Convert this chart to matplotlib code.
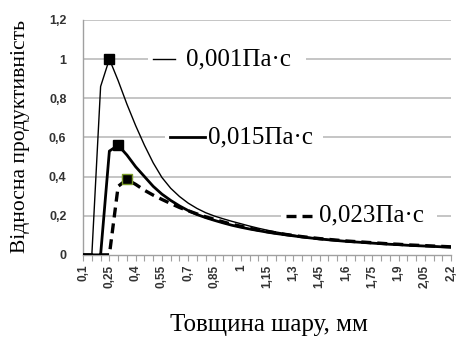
import matplotlib
matplotlib.use("Agg")
import matplotlib.pyplot as plt
from matplotlib.patches import Rectangle


# layer thickness, mm (categories of the x axis)
thickness = [0.1, 0.15, 0.2, 0.25, 0.3, 0.35, 0.4, 0.45, 0.5, 0.55,
             0.6, 0.65, 0.7, 0.75, 0.8, 0.85, 0.9, 0.95, 1.0, 1.05,
             1.1, 1.15, 1.2, 1.25, 1.3, 1.35, 1.4, 1.45, 1.5, 1.55,
             1.6, 1.65, 1.7, 1.75, 1.8, 1.85, 1.9, 1.95, 2.0, 2.05,
             2.1, 2.15, 2.2]

# relative productivity for three viscosities
visc_001 = [0, 0, 0.86, 1.0, 0.89, 0.77, 0.66, 0.56, 0.47, 0.395,
            0.34, 0.298, 0.264, 0.237, 0.215, 0.198, 0.184, 0.171, 0.159, 0.147,
            0.136, 0.126, 0.117, 0.109, 0.101, 0.094, 0.088, 0.083, 0.078, 0.074,
            0.070, 0.066, 0.063, 0.060, 0.057, 0.054, 0.052, 0.049, 0.047, 0.045,
            0.043, 0.041, 0.039]
visc_015 = [0, 0, 0, 0.53, 0.56, 0.51, 0.45, 0.40, 0.35, 0.31,
            0.278, 0.25, 0.226, 0.206, 0.19, 0.176, 0.163, 0.151, 0.141, 0.132,
            0.124, 0.116, 0.109, 0.103, 0.097, 0.091, 0.086, 0.081, 0.077, 0.073,
            0.069, 0.066, 0.063, 0.060, 0.057, 0.054, 0.052, 0.049, 0.047, 0.045,
            0.043, 0.041, 0.039]
visc_023 = [0, 0, 0, 0, 0.35, 0.385, 0.36, 0.33, 0.305, 0.283,
            0.262, 0.242, 0.225, 0.209, 0.194, 0.181, 0.168, 0.156, 0.146, 0.136,
            0.127, 0.119, 0.112, 0.105, 0.099, 0.093, 0.088, 0.083, 0.079, 0.075,
            0.071, 0.068, 0.065, 0.062, 0.059, 0.056, 0.054, 0.051, 0.049, 0.047,
            0.045, 0.043, 0.041]

series_labels = ["0,001Па·с", "0,015Па·с", "0,023Па·с"]
y_ticks = [0, 0.2, 0.4, 0.6, 0.8, 1.0, 1.2]


def fmt(v):
    s = ("%.2f" % v).rstrip("0").rstrip(".")
    return s.replace(".", ",")


idx = list(range(len(thickness)))

fig = plt.figure(figsize=(4.59, 3.38), dpi=100)
ax = fig.add_axes([0.181, 0.246, 0.802, 0.695])

for y in y_ticks[1:]:
    ax.axhline(y, color="#c0c0c0", lw=1.3, zorder=1)

ax.plot(idx, visc_001, color="black", lw=1.0, zorder=4,
        marker="s", markevery=[visc_001.index(max(visc_001))],
        ms=7, mfc="black", mec="black")
ax.plot(idx, visc_015, color="black", lw=2.0, zorder=4,
        marker="s", markevery=[visc_015.index(max(visc_015))],
        ms=7, mfc="black", mec="black")
ax.plot(idx, visc_023, color="black", lw=2.4, zorder=5, dashes=(3, 1.8),
        marker="s", markevery=[visc_023.index(max(visc_023))],
        ms=7, mfc="black", mec="#7a9a2a", mew=1.0)

# labels with legend-like keys
serif = "Liberation Serif"
labels_pos = [(7.4, 25.4, 8.0, 10.5, 11.7, 1.0, 1.0, None),
              (9.4, 27.4, 9.9, 13.9, 14.2, 0.6, 2.0, None),
              (22.6, 40.4, 23.1, 26.1, 26.9, 0.2, 2.4, (3, 1.8))]
for (bx0, bx1, kx0, kx1, tx, ty, lw, ds), lab in zip(labels_pos, series_labels):
    ax.add_patch(Rectangle((bx0, ty - 0.06), bx1 - bx0, 0.12,
                           facecolor="white", edgecolor="none", zorder=2))
    kw = dict(color="black", lw=lw, zorder=3)
    if ds:
        kw["dashes"] = ds
    ax.plot([kx0, kx1], [ty, ty], **kw)
    ax.text(tx, ty, lab, family=serif, fontsize=18, va="center", ha="left",
            zorder=3)

ax.set_xlim(0, len(thickness) - 1)
ax.set_ylim(0, 1.2)
ax.set_yticks(y_ticks)
ax.set_yticklabels([fmt(v) for v in y_ticks], fontsize=9, fontweight="bold",
                   family="Liberation Sans", color="#333333")
ax.tick_params(axis="y", length=0, pad=12)

ax.set_xticks(idx)
ax.set_xticklabels([fmt(v) if i % 3 == 0 else "" for i, v in enumerate(thickness)],
                   rotation=90, fontsize=8.5, fontweight="bold",
                   family="Liberation Sans", color="#333333")
ax.tick_params(axis="x", length=4, width=0.8, color="#a0a0a0", pad=3)

for s in ["top", "right"]:
    ax.spines[s].set_visible(False)
ax.spines["left"].set_color("#a0a0a0")
ax.spines["bottom"].set_color("#a0a0a0")
ax.spines["left"].set_linewidth(1.0)
ax.spines["bottom"].set_linewidth(1.0)

fig.text(0.045, 0.595, "Відносна продуктивність", rotation=90, family=serif,
         fontsize=15.5, ha="center", va="center")
fig.text(0.585, 0.038, "Товщина шару, мм", family=serif, fontsize=18,
         ha="center", va="center")

fig.savefig("out.png", dpi=100)
